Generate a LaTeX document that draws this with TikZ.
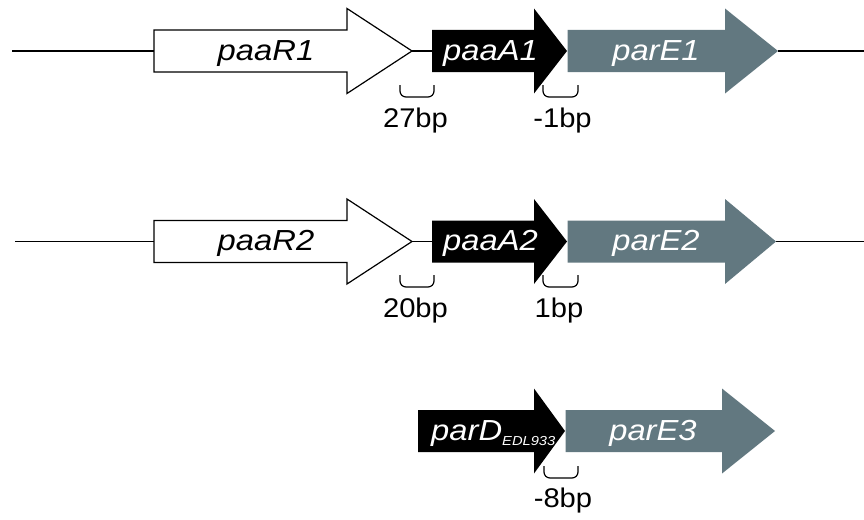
\documentclass[tikz,border=0pt]{standalone}
\usepackage{fontspec}
\setmainfont{Liberation Sans}
\definecolor{toxin}{HTML}{627880}
\tikzset{
  dna/.style={line width=1.3pt, black},
  genewhite/.style={draw=black, line width=1.2pt, fill=white},
  geneblack/.style={fill=black, draw=none},
  genegrey/.style={fill=toxin, draw=none},
  gap/.style={line width=1.2pt, black, rounded corners=6pt},
  genelbl/.style={font=\fontsize{29}{31}\selectfont\itshape, inner sep=0pt, anchor=base},
  bplbl/.style={font=\fontsize{27}{30}\selectfont, inner sep=0pt, anchor=base},
}
% gene arrow: style, body start x, head start x, tip x, axis y
\newcommand{\genearrow}[5]{%
  \path[#1] (#2,#5-21) -- (#3,#5-21) -- (#3,#5-42.5) -- (#4,#5)
    -- (#3,#5+42.5) -- (#3,#5+21) -- (#2,#5+21) -- cycle;}
% slightly widened lettering
\newcommand{\wgene}[1]{\scalebox{1.13}[1]{#1}}
\newcommand{\wbp}[1]{\scalebox{1.08}[1]{#1}}
\begin{document}
\begin{tikzpicture}[x=1pt,y=-1pt]
\useasboundingbox (0,0) rectangle (864,519);

% ---- row 1: paaR1 paaA1 parE1
\coordinate (l1a) at (12,51);
\coordinate (r1s) at (154,51);
\coordinate (r1t) at (412,51);
\coordinate (a1s) at (432,51);
\coordinate (e1t) at (778,51);
\coordinate (l1b) at (864,51);
\draw[dna] (l1a) -- (r1s);
\draw[dna] (r1t) -- (a1s);
\draw[dna] (e1t) -- (l1b);
\genearrow{genewhite}{154}{347}{412}{51}
\genearrow{geneblack}{432}{534}{567}{51}
\genearrow{genegrey}{567.5}{725}{778}{51}
\node[genelbl] (paaR1) at (266,60) {\wgene{paaR1}};
\node[genelbl, text=white] (paaA1) at (490.5,60) {\wgene{paaA1}};
\node[genelbl, text=white] (parE1) at (656,60) {\wgene{parE1}};
\draw[gap] (400,85) |- (434,97) -- (434,85);
\draw[gap] (543,85) |- (578,97) -- (578,85);
\node[bplbl] (bp27) at (415.5,127) {\wbp{27bp}};
\node[bplbl] (bpm1) at (562.5,127) {\wbp{-1bp}};

% ---- row 2: paaR2 paaA2 parE2
\coordinate (l2a) at (15,241.5);
\coordinate (r2s) at (154,241.5);
\coordinate (r2t) at (412,241.5);
\coordinate (a2s) at (432,241.5);
\coordinate (e2t) at (776,241.5);
\coordinate (l2b) at (864,241.5);
\draw[dna] (l2a) -- (r2s);
\draw[dna] (r2t) -- (a2s);
\draw[dna] (e2t) -- (l2b);
\genearrow{genewhite}{154}{347}{412}{241.5}
\genearrow{geneblack}{432}{534}{567}{241.5}
\genearrow{genegrey}{567.5}{725}{776}{241.5}
\node[genelbl] (paaR2) at (266,250.5) {\wgene{paaR2}};
\node[genelbl, text=white] (paaA2) at (490.5,250.5) {\wgene{paaA2}};
\node[genelbl, text=white] (parE2) at (656,250.5) {\wgene{parE2}};
\draw[gap] (400,275) |- (434,287) -- (434,275);
\draw[gap] (543,275) |- (578,287) -- (578,275);
\node[bplbl] (bp20) at (415.5,317) {\wbp{20bp}};
\node[bplbl] (bp1) at (559,317) {\wbp{1bp}};

% ---- row 3: parD(EDL933) parE3
\genearrow{geneblack}{418}{534}{565}{431}
\genearrow{genegrey}{565.5}{722}{775}{431}
\node[genelbl, text=white, anchor=base west] (parD) at (431,440)
  {\wgene{parD\raisebox{-5pt}{\fontsize{13}{14}\selectfont EDL933}}};
\node[genelbl, text=white] (parE3) at (653,440) {\wgene{parE3}};
\draw[gap] (544,466) |- (578,478) -- (578,466);
\node[bplbl] (bpm8) at (563,507) {\wbp{-8bp}};
\end{tikzpicture}
\end{document}
